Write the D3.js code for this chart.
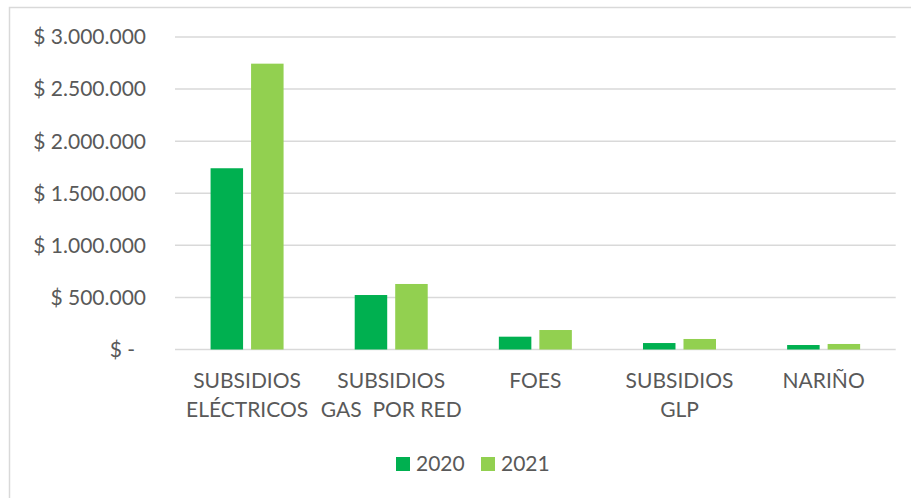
<!DOCTYPE html>
<html>
<head>
<meta charset="utf-8">
<script src="https://cdn.jsdelivr.net/npm/d3@7"></script>
<style>
  body { margin: 0; background: #fff; }
  svg { display: block; font-family: Lato, "Open Sans", sans-serif; }
</style>
</head>
<body>
<script>
(function() {
const width = 911;
const height = 498;

// data
const categories = [["SUBSIDIOS", "ELÉCTRICOS"], ["SUBSIDIOS", "GAS  POR RED"], ["FOES"], ["SUBSIDIOS", "GLP"], ["NARIÑO"]];
const seriesNames = ["2020", "2021"];
const values2020 = [1740000, 523000, 123000, 62000, 43000];
const values2021 = [2744000, 629000, 187000, 101000, 53000];
const yTicks = [0, 500000, 1000000, 1500000, 2000000, 2500000, 3000000];
const colors = ["#00B050", "#92D050"];

const margin = { top: 37, left: 175, right: 15, bottom: 148 };
const innerWidth = width - margin.left - margin.right - 0.3;
const innerHeight = 349.5 - margin.top;

const svg = d3.select("body").append("svg")
  .attr("width", width)
  .attr("height", height);

// chart border (top + left only visible)
svg.append("path")
  .attr("d", `M9.5,${height} V7.5 H${width}`)
  .attr("fill", "none")
  .attr("stroke", "#D9D9D9")
  .attr("stroke-width", 1.5);

const keys = categories.map((c, i) => i);
const x = d3.scaleBand().domain(keys).range([0, innerWidth]);
const y = d3.scaleLinear().domain([0, 3000000]).range([innerHeight, 0]);

const g = svg.append("g").attr("transform", `translate(${margin.left},${margin.top})`);

// gridlines
g.selectAll(".grid")
  .data(yTicks)
  .join("line")
  .attr("x1", 0)
  .attr("x2", innerWidth)
  .attr("y1", d => y(d))
  .attr("y2", d => y(d))
  .attr("stroke", "#D9D9D9")
  .attr("stroke-width", 1.5);

// y labels
const fmt = d => d === 0 ? "$ -" : "$ " + d3.format(",")(d).replace(/,/g, ".");
g.selectAll(".ylab")
  .data(yTicks)
  .join("text")
  .attr("x", d => d === 0 ? -40 : -29)
  .attr("y", d => y(d))
  .attr("dy", "0.35em")
  .attr("text-anchor", "end")
  .attr("fill", "#595959")
  .attr("font-size", "21px")
  .text(fmt);

// bars
const bw = x.bandwidth();
const barW = 32.5;
const gap = 8;
const series = [values2020, values2021];
series.forEach((vals, si) => {
  g.selectAll(".bar" + si)
    .data(vals)
    .join("rect")
    .attr("x", (d, i) => x(i) + bw / 2 - barW - gap / 2 + si * (barW + gap))
    .attr("width", barW)
    .attr("y", d => y(d))
    .attr("height", d => innerHeight - y(d))
    .attr("fill", colors[si]);
});

// x labels
g.selectAll(".xlab")
  .data(categories)
  .join("text")
  .attr("text-anchor", "middle")
  .attr("fill", "#595959")
  .attr("font-size", "21px")
  .attr("transform", (d, i) => `translate(${x(i) + bw / 2},${innerHeight + 31})`)
  .each(function(lines) {
    const t = d3.select(this);
    lines.forEach((l, j) => {
      t.append("tspan")
        .attr("x", 0)
        .attr("y", j * 29)
        .attr("dy", "0.35em")
        .style("white-space", "pre")
        .text(l);
    });
  });

// legend
const legendX = [396, 481];
const legend = svg.append("g");
seriesNames.forEach((name, i) => {
  legend.append("rect")
    .attr("x", legendX[i])
    .attr("y", 457)
    .attr("width", 14)
    .attr("height", 14)
    .attr("fill", colors[i]);
  legend.append("text")
    .attr("x", legendX[i] + 20)
    .attr("y", 464)
    .attr("dy", "0.35em")
    .attr("fill", "#595959")
    .attr("font-size", "21px")
    .text(name);
});
}());
</script>
</body>
</html>
